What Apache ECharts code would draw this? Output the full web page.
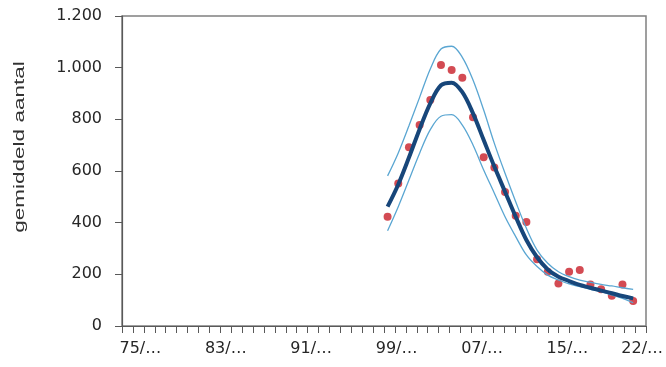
<!DOCTYPE html>
<html lang="nl">
<head>
  <meta charset="UTF-8">
  <title>gemiddeld aantal</title>
  <script src="https://cdn.jsdelivr.net/npm/echarts@6/dist/echarts.min.js"></script>
  <style>
    html,body{margin:0;padding:0;background:#fff}
    #main{width:666px;height:367px}
  </style>
</head>
<body>
<div id="main"></div>
<script>
  // seizoenen 1975/76 t/m 2022/23
  var seasons = ['75/76','76/77','77/78','78/79','79/80','80/81','81/82','82/83','83/84','84/85',
                 '85/86','86/87','87/88','88/89','89/90','90/91','91/92','92/93','93/94','94/95',
                 '95/96','96/97','97/98','98/99','99/00','00/01','01/02','02/03','03/04','04/05',
                 '05/06','06/07','07/08','08/09','09/10','10/11','11/12','12/13','13/14','14/15',
                 '15/16','16/17','17/18','18/19','19/20','20/21','21/22','22/23'];
  var firstSeason = '99/00';

  // waarnemingen (rode punten) vanaf 99/00
  var observed = [423,552,692,778,875,1010,991,961,808,653,614,519,427,403,258,210,165,210,217,161,142,117,161,97];
  // trendlijn en betrouwbaarheidsband
  var trend = [462,548,652,762,862,932,942,905,823,720,617,520,423,333,266,219,191,174,159,148,137,127,116,107];
  var upper = [581,670,775,885,995,1072,1083,1040,952,836,707,591,481,378,294,243,210,191,178,169,161,155,148,142];
  var lower = [369,462,565,669,760,812,818,778,701,604,514,423,346,275,230,197,178,163,152,142,133,120,107,90];

  var yTicks = [0,200,400,600,800,1000,1200];
  var labelSeasons = ['75/76','83/84','91/92','99/00','07/08','15/16','22/23'];

  var lead = seasons.indexOf(firstSeason);
  function pad(arr){
    var out = [];
    for (var i = 0; i < seasons.length; i++) {
      var j = i - lead;
      out.push(j >= 0 && j < arr.length ? arr[j] : null);
    }
    return out;
  }
  function nl(v){ return String(v).replace(/\B(?=(\d{3})+(?!\d))/g, '.'); }

  var chart = echarts.init(document.getElementById('main'));
  var font = 'DejaVu Sans';

  chart.setOption({
    animation:false,
    grid:[
      {left:122,right:20,top:16,bottom:41,show:true,borderColor:'#808080',borderWidth:1.5},
      {left:126,right:24.5,top:16,bottom:41}
    ],
    xAxis:[
      {gridIndex:0,type:'category',data:seasons,boundaryGap:true,
       axisLine:{lineStyle:{color:'#595959',width:1.2}},
       axisTick:{show:true,interval:0,length:7,lineStyle:{color:'#595959'}},
       axisLabel:{show:false},splitLine:{show:false}},
      {gridIndex:1,type:'category',data:seasons,boundaryGap:true,
       axisLine:{show:false},axisTick:{show:false},splitLine:{show:false},
       axisLabel:{
         interval:function(i,v){ return labelSeasons.indexOf(v) >= 0; },
         formatter:function(v){ return v.split('/')[0] + '/…'; },
         margin:15,fontSize:16,fontFamily:font,color:'#262626',
         padding:[0,0,0,18]
       }}
    ],
    yAxis:[
      {gridIndex:0,type:'value',min:yTicks[0],max:yTicks[yTicks.length-1],interval:200,
       axisLine:{show:true,lineStyle:{color:'#595959',width:1.2}},
       axisTick:{show:true,length:7,lineStyle:{color:'#595959'}},
       splitLine:{show:false},
       axisLabel:{margin:20,fontSize:16,fontFamily:font,color:'#262626',formatter:nl}},
      {gridIndex:1,type:'value',min:yTicks[0],max:yTicks[yTicks.length-1],interval:200,show:false,splitLine:{show:false}}
    ],
    graphic:[{
      type:'text',x:20,y:147,rotation:Math.PI/2,scaleX:1.5,
      style:{text:'gemiddeld aantal',fontSize:15,fontFamily:'Liberation Sans',fill:'#333333',
             align:'center',verticalAlign:'middle'}
    }],
    series:[
      {name:'bovengrens',type:'line',xAxisIndex:1,yAxisIndex:1,data:pad(upper),smooth:0.35,
       showSymbol:false,lineStyle:{color:'#5aa6d2',width:1.3},itemStyle:{color:'#5aa6d2'}},
      {name:'ondergrens',type:'line',xAxisIndex:1,yAxisIndex:1,data:pad(lower),smooth:0.35,
       showSymbol:false,lineStyle:{color:'#5aa6d2',width:1.3},itemStyle:{color:'#5aa6d2'}},
      {name:'trend',type:'line',xAxisIndex:1,yAxisIndex:1,data:pad(trend),smooth:0.35,
       showSymbol:false,lineStyle:{color:'#17467a',width:4},itemStyle:{color:'#17467a'}},
      {name:'gemiddeld aantal',type:'scatter',xAxisIndex:1,yAxisIndex:1,data:pad(observed),
       symbolSize:8,itemStyle:{color:'#c81e28'}}
    ]
  });
</script>
</body>
</html>
